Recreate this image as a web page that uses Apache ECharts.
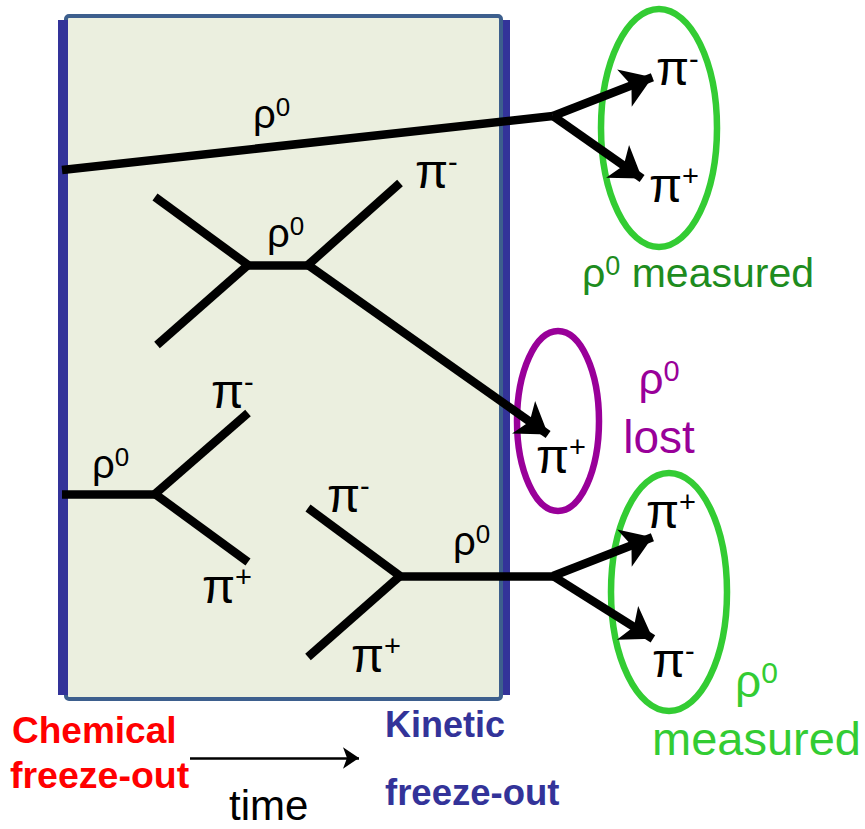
<!DOCTYPE html>
<html>
<head>
<meta charset="utf-8">
<script src="https://cdn.jsdelivr.net/npm/echarts@6/dist/echarts.min.js"></script>
<style>
html,body{margin:0;padding:0;background:#ffffff;}
#c{width:865px;height:829px;}
</style>
</head>
<body>
<div id="c"></div>
<script>
// ---- data (diagram coordinates) ----
const plainSegments = [
  [[62,170],[553,116]],
  [[155,197],[248,265]],
  [[157,345],[248,265]],
  [[248,265],[308,265]],
  [[308,265],[400,183]],
  [[62,494],[155,494]],
  [[155,494],[248,413]],
  [[155,494],[248,562]],
  [[308,508],[400,576]],
  [[308,657],[400,576]],
  [[400,576],[553,576]]
];
// start point, arrow tip
const arrowSegments = [
  [[553,116],[658,75]],
  [[553,116],[647,182]],
  [[308,265],[553,438]],
  [[553,576],[658,535]],
  [[553,576],[658,642]]
];
const timeArrow = [[[190,758],[362,758]]];
const boxRect = [[66,16,501,699]];
const freezeBars = [[58,20,68,695],[503,20,510,695]];
const ellipses = [[659,128,58,119],[558,421,41,90],[669,592,58,119]];
const ellipseColors = ['#33cc33','#990099','#33cc33'];
// [symbol, superscript, left x, baseline y]
const particleLabels = [
  ['ρ','0',253,128],
  ['π','-',415,188],
  ['ρ','0',267,247],
  ['π','-',656,85],
  ['π','+',649,202],
  ['π','+',536,473],
  ['ρ','0',92,478],
  ['π','-',211,408],
  ['π','+',202,603],
  ['π','-',327,512],
  ['π','+',351,672],
  ['ρ','0',453,555],
  ['π','+',646,528],
  ['π','-',652,677]
];
// [before, superscript, after, x, baseline y, align, colour, size, weight]
const annotations = [
  ['ρ','0',' measured',582,287,'left','#1e8c1e',41,'normal'],
  ['ρ','0','',659,394,'center','#990099',44,'normal'],
  ['lost','','',659,453,'center','#990099',46,'normal'],
  ['ρ','0','',735,697,'left','#33cc33',46,'normal'],
  ['measured','','',652,755,'left','#33cc33',47,'normal'],
  ['Chemical','','',12,743,'left','#ff0000',37,'bold'],
  ['freeze-out','','',10,788,'left','#ff0000',37.5,'bold'],
  ['Kinetic','','',385,737,'left','#333399',36,'bold'],
  ['freeze-out','','',385,806,'left','#333399',36.5,'bold'],
  ['time','','',229,820,'left','#000000',42,'normal']
];

const FONT = '"Liberation Sans", Arial, sans-serif';
const chart = echarts.init(document.getElementById('c'), null, {renderer: 'svg'});

function richText(before, sup, after, size, color, weight, supScale) {
  let t = '{m|' + before + '}';
  if (sup) t += '{s|' + sup + '}';
  if (after) t += '{m|' + after + '}';
  const supSize = Math.round(size * (supScale || 0.66));
  return {
    text: t,
    rich: {
      m: {fontSize: size, lineHeight: size, fontFamily: FONT, fontWeight: weight, fill: color, verticalAlign: 'bottom'},
      s: {fontSize: supSize, lineHeight: supSize, fontFamily: FONT, fontWeight: weight, fill: color, verticalAlign: 'top'}
    }
  };
}
// pull the line end back so the arrow head's tip lands on the given point
function pullBack(seg, d) {
  const a = seg[0], b = seg[1];
  const dx = b[0] - a[0], dy = b[1] - a[1];
  const len = Math.sqrt(dx * dx + dy * dy);
  return [a, [b[0] - dx / len * d, b[1] - dy / len * d]];
}

const option = {
  animation: false,
  grid: {left: 0, right: 0, top: 0, bottom: 0},
  xAxis: {type: 'value', min: 0, max: 865, show: false},
  yAxis: {type: 'value', min: 0, max: 829, inverse: true, show: false},
  series: [
    {
      type: 'custom', z: 1, silent: true,
      data: boxRect,
      renderItem: function (params, api) {
        const r = boxRect[params.dataIndex];
        const p1 = api.coord([r[0], r[1]]), p2 = api.coord([r[2], r[3]]);
        return {type: 'rect', shape: {x: p1[0], y: p1[1], width: p2[0]-p1[0], height: p2[1]-p1[1], r: 3},
          style: {fill: '#ebefdf', stroke: '#3d5f8d', lineWidth: 4}};
      }
    },
    {
      type: 'custom', z: 2, silent: true,
      data: freezeBars,
      renderItem: function (params, api) {
        const r = freezeBars[params.dataIndex];
        const p1 = api.coord([r[0], r[1]]), p2 = api.coord([r[2], r[3]]);
        return {type: 'rect', shape: {x: p1[0], y: p1[1], width: p2[0]-p1[0], height: p2[1]-p1[1]},
          style: {fill: '#333399'}};
      }
    },
    {
      type: 'custom', z: 3, silent: true,
      data: ellipses,
      renderItem: function (params, api) {
        const e = ellipses[params.dataIndex];
        const c = api.coord([e[0], e[1]]);
        const s = api.size([e[2], e[3]]);
        return {type: 'ellipse', shape: {cx: c[0], cy: c[1], rx: Math.abs(s[0]), ry: Math.abs(s[1])},
          style: {fill: 'none', stroke: ellipseColors[params.dataIndex], lineWidth: 6.5}};
      }
    },
    {
      type: 'lines', coordinateSystem: 'cartesian2d', z: 4, silent: true,
      data: plainSegments.map(c => ({coords: c})),
      symbol: ['none', 'none'],
      lineStyle: {color: '#000', width: 8.5, opacity: 1, cap: 'butt'}
    },
    {
      type: 'lines', coordinateSystem: 'cartesian2d', z: 4, silent: true,
      data: arrowSegments.map(c => ({coords: pullBack(c, 6)})),
      symbol: ['none', 'arrow'],
      symbolSize: [26, 30],
      lineStyle: {color: '#000', width: 8.5, opacity: 1, cap: 'butt'}
    },
    {
      type: 'lines', coordinateSystem: 'cartesian2d', z: 4, silent: true,
      data: timeArrow.map(c => ({coords: pullBack(c, 3)})),
      symbol: ['none', 'arrow'],
      symbolSize: [13, 16],
      lineStyle: {color: '#000', width: 2.5, opacity: 1}
    },
    {
      type: 'custom', z: 5, silent: true,
      data: particleLabels.map(l => [l[2], l[3]]),
      renderItem: function (params, api) {
        const l = particleLabels[params.dataIndex];
        const isPi = l[0] === 'π';
        const size = isPi ? 48 : 40;
        const p = api.coord([l[2], l[3]]);
        const rt = richText(l[0], l[1], '', size, '#000', 'normal', isPi ? 0.6 : 0.66);
        return {type: 'text', x: p[0], y: p[1] - 0.35 * size,
          style: {text: rt.text, rich: rt.rich, align: 'left', verticalAlign: 'middle', fill: '#000', fontSize: size, fontFamily: FONT}};
      }
    },
    {
      type: 'custom', z: 5, silent: true,
      data: annotations.map(a => [a[3], a[4]]),
      renderItem: function (params, api) {
        const a = annotations[params.dataIndex];
        const p = api.coord([a[3], a[4]]);
        const rt = richText(a[0], a[1], a[2], a[7], a[6], a[8]);
        return {type: 'text', x: p[0], y: p[1] - 0.35 * a[7],
          style: {text: rt.text, rich: rt.rich, align: a[5], verticalAlign: 'middle', fill: a[6], fontSize: a[7], fontFamily: FONT, fontWeight: a[8]}};
      }
    }
  ]
};
chart.setOption(option);
</script>
</body>
</html>
